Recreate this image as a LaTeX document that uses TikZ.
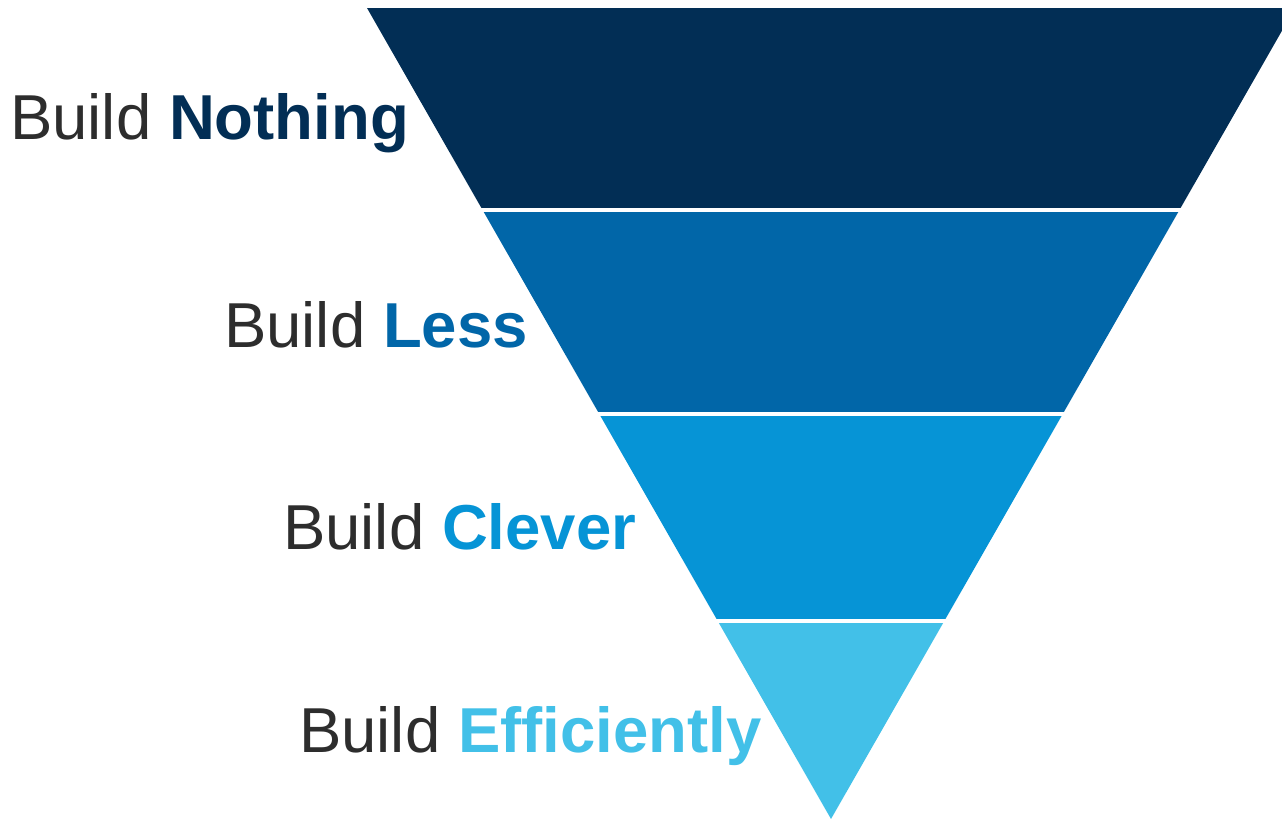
\documentclass[tikz,border=0pt]{standalone}
\usepackage{fontspec}
\setmainfont{Liberation Sans}
\definecolor{cA}{RGB}{2,46,85}
\definecolor{cB}{RGB}{1,102,168}
\definecolor{cC}{RGB}{6,148,214}
\definecolor{cD}{RGB}{66,192,232}
\definecolor{txt}{RGB}{45,45,45}
\begin{document}
\begin{tikzpicture}[x=1pt,y=-1pt,
  lbl/.style={anchor=base west,inner sep=0pt,font=\fontsize{63.5}{70}\selectfont,text=txt}]
\useasboundingbox (0,0) rectangle (1282,819);
\clip (0,0) rectangle (1282,819);
\def\tri{(367,8) -- (1295,8) -- (831,819) -- cycle}
\begin{scope}\clip (0,0) rectangle (1300,207.5);\fill[cA] \tri;\end{scope}
\begin{scope}\clip (0,212.5) rectangle (1300,411.5);\fill[cB] \tri;\end{scope}
\begin{scope}\clip (0,416.5) rectangle (1300,618);\fill[cC] \tri;\end{scope}
\begin{scope}\clip (0,623) rectangle (1300,830);\fill[cD] \tri;\end{scope}
\node[lbl] (l1) at (10,139) {Build \textbf{\color{cA}Nothing}};
\node[lbl] (l2) at (224,347) {Build \textbf{\color{cB}Less}};
\node[lbl] (l3) at (283,549) {Build \textbf{\color{cC}Clever}};
\node[lbl] (l4) at (299,752) {Build \textbf{\color{cD}Efficiently}};
\end{tikzpicture}
\end{document}
